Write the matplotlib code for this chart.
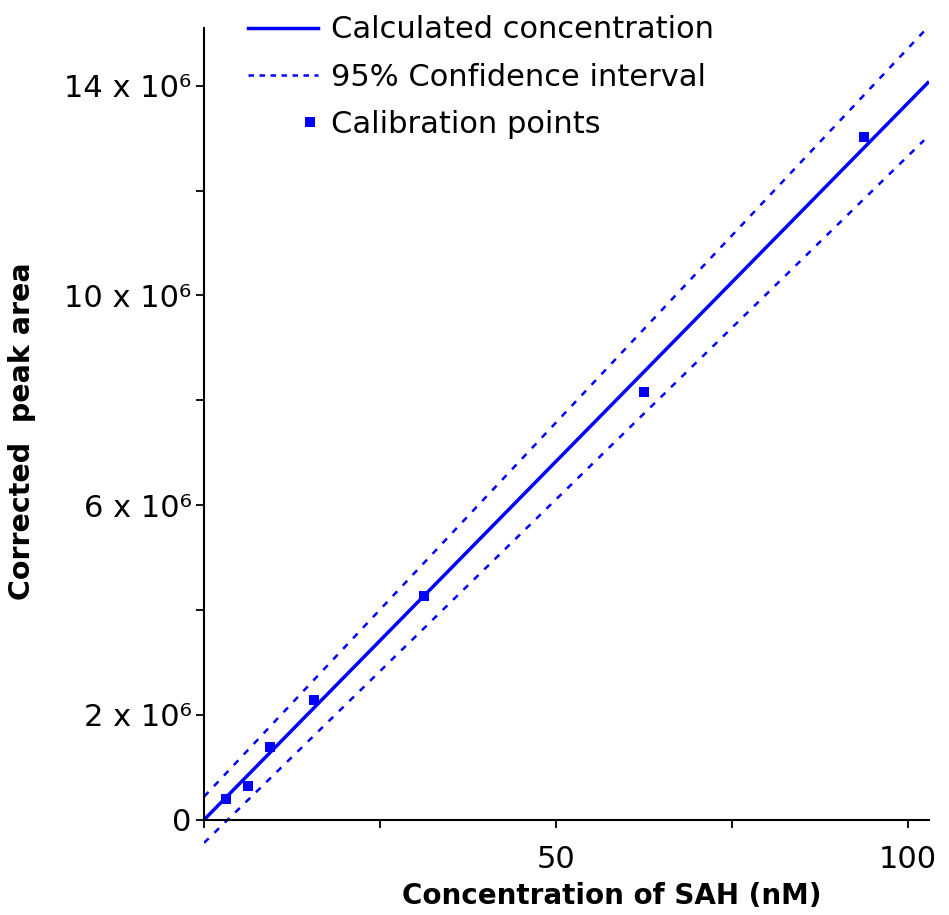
import numpy as np
import matplotlib
matplotlib.use("Agg")
import matplotlib.pyplot as plt
from matplotlib.lines import Line2D
from matplotlib.legend_handler import HandlerLine2D

# calibration standards (nM) and corrected peak areas
conc_nm = [3.125, 6.25, 9.375, 15.625, 31.25, 62.5, 93.75]
peak_area = [0.40e6, 0.65e6, 1.39e6, 2.29e6, 4.26e6, 8.15e6, 13.02e6]

# fitted calibration line and 95% band, given at the two ends of the range
fit_x = [0.0, 103.0]
fit_y = [0.0, 14.08e6]
band_x = [0.0, 102.3]
band_upper = [0.44e6, 15.04e6]
band_lower = [-0.44e6, 12.96e6]

ytick_vals = [0, 2e6, 4e6, 6e6, 8e6, 10e6, 12e6, 14e6]
ytick_text = ["0", "2 x 10⁶", "", "6 x 10⁶", "", "10 x 10⁶", "", "14 x 10⁶"]
xtick_vals = [0, 25, 50, 75, 100]
xtick_text = ["", "", "50", "", "100"]

BLUE = "#0000ff"


class MarkerAtEnd(HandlerLine2D):
    # put the single legend marker at the right end of the handle
    def get_xdata(self, legend, xdescent, ydescent, width, height, fontsize):
        x_end = -xdescent + width
        return [x_end - 8, x_end - 4], [x_end - 8]


plt.rcParams["font.family"] = "DejaVu Sans"

fig = plt.figure(figsize=(9.49, 9.15), dpi=100)
ax = fig.add_axes([0.215, 0.0754, 0.7640, 0.894])

ax.plot(fit_x, fit_y, color=BLUE, lw=2.5, solid_capstyle="butt")
ax.plot(band_x, band_upper, color=BLUE, lw=1.8, linestyle=(0, (2.6, 3.2)))
ax.plot(band_x, band_lower, color=BLUE, lw=1.8, linestyle=(0, (2.6, 3.2)))
ax.plot(conc_nm, peak_area, linestyle="none", marker="s", markersize=7.5,
        color=BLUE, markeredgewidth=0)

ax.set_xlim(0, 103)
ax.set_ylim(-0.5e6, 15.1e6)

for side in ("top", "right"):
    ax.spines[side].set_visible(False)
ax.spines["bottom"].set_position(("data", 0))
ax.spines["left"].set_bounds(0, 15.1e6)
ax.spines["left"].set_linewidth(1.5)
ax.spines["bottom"].set_linewidth(1.5)

ax.set_yticks(ytick_vals)
ax.set_yticklabels(ytick_text)
ax.set_xticks(xtick_vals)
ax.set_xticklabels(xtick_text)
ax.tick_params(axis="both", direction="out", length=6, width=1.3, labelsize=22)
ax.tick_params(axis="y", pad=3)
ax.tick_params(axis="x", pad=12)

ax.set_xlabel("Concentration of SAH (nM)", fontsize=20, fontweight="bold")
ax.set_ylabel("Corrected  peak area", fontsize=20.5, fontweight="bold")
ax.xaxis.set_label_coords(0.562, -0.044)
ax.yaxis.set_label_coords(-0.232, 0.507)

handles = [
    Line2D([], [], color=BLUE, lw=2.5),
    Line2D([], [], color=BLUE, lw=1.8, linestyle=(0, (2.2, 2.2))),
    Line2D([], [], color=BLUE, linestyle="none", marker="s", markersize=7,
           markeredgewidth=0),
]
labels = ["Calculated concentration", "95% Confidence interval", "Calibration points"]
ax.legend(handles, labels, loc="upper left", bbox_to_anchor=(0.023, 1.049),
          frameon=False, fontsize=22, handlelength=2.3, handletextpad=0.4,
          labelspacing=0.6, numpoints=1,
          handler_map={handles[2]: MarkerAtEnd(numpoints=1)})

fig.savefig("out.png", dpi=100)
